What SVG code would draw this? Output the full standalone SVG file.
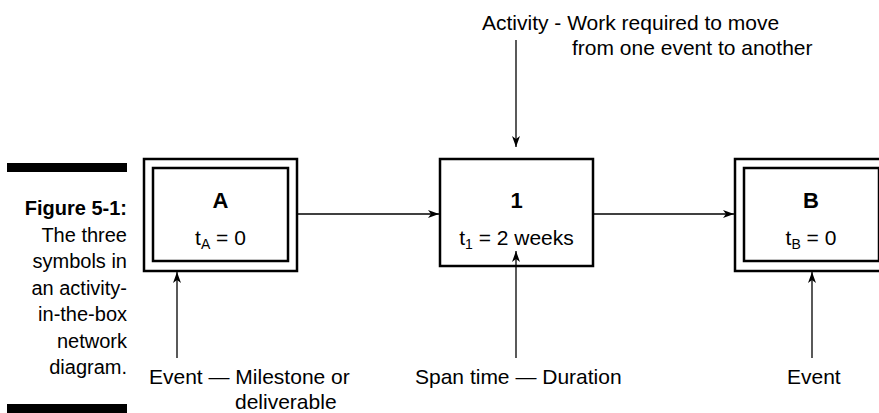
<svg xmlns="http://www.w3.org/2000/svg" width="879" height="413" viewBox="0 0 879 413">
<style>
  .t { font-family: "Liberation Sans", Arial, sans-serif; font-size: 21px; fill: #000; }
  .b { font-family: "Liberation Sans", Arial, sans-serif; font-size: 22px; font-weight: bold; fill: #000; }
  .cap { font-family: "Liberation Sans", Arial, sans-serif; font-size: 20px; fill: #000; text-anchor: end; }
  .box { fill: none; stroke: #000; stroke-width: 2.5; }
  .con { stroke: #000; stroke-width: 1.3; fill: none; marker-end: url(#ah); }
</style>
<defs>
  <marker id="ah" markerUnits="userSpaceOnUse" markerWidth="12" markerHeight="8" refX="11" refY="4" orient="auto">
    <path d="M0,0 L11,4 L0,8 L3,4 Z" fill="#000"/>
  </marker>
</defs>
<rect width="879" height="413" fill="#fff"/>

<g id="caption">
  <rect x="7" y="163" width="120" height="9" fill="#000"/>
  <text class="cap" x="127" y="215" font-weight="bold">Figure 5-1:</text>
  <text class="cap" x="127" y="241.5">The three</text>
  <text class="cap" x="127" y="268">symbols in</text>
  <text class="cap" x="127" y="294.5">an activity-</text>
  <text class="cap" x="127" y="321">in-the-box</text>
  <text class="cap" x="127" y="347.5">network</text>
  <text class="cap" x="127" y="374">diagram.</text>
  <rect x="7" y="404" width="120" height="9" fill="#000"/>
</g>

<g id="nodeA">
  <rect class="box" x="144" y="159" width="153" height="112"/>
  <rect class="box" x="153" y="168" width="135" height="93"/>
  <text class="b" x="220.5" y="208" text-anchor="middle">A</text>
  <text class="t" x="220.5" y="245" text-anchor="middle">t<tspan font-size="14" dy="4">A</tspan><tspan dy="-4"> = 0</tspan></text>
</g>

<g id="node1">
  <rect class="box" x="440" y="159" width="153" height="107"/>
  <text class="b" x="516.5" y="208" text-anchor="middle">1</text>
  <text class="t" x="516.5" y="245" text-anchor="middle">t<tspan font-size="14" dy="4">1</tspan><tspan dy="-4"> = 2 weeks</tspan></text>
</g>

<g id="nodeB">
  <rect class="box" x="735" y="159" width="153" height="112"/>
  <rect class="box" x="744" y="168" width="135" height="93"/>
  <text class="b" x="811" y="208" text-anchor="middle">B</text>
  <text class="t" x="811" y="245" text-anchor="middle">t<tspan font-size="14" dy="4">B</tspan><tspan dy="-4"> = 0</tspan></text>
</g>

<g id="connectors">
  <line class="con" x1="297" y1="214" x2="439" y2="214"/>
  <line class="con" x1="593" y1="214" x2="734" y2="214"/>
  <line class="con" x1="516" y1="40" x2="516" y2="147"/>
  <line class="con" x1="177" y1="358" x2="177" y2="272"/>
  <line class="con" x1="516" y1="358" x2="516" y2="251"/>
  <line class="con" x1="812" y1="358" x2="812" y2="272"/>
</g>

<g id="labels">
  <text class="t" x="482" y="30">Activity - Work required to move</text>
  <text class="t" x="572" y="55">from one event to another</text>
  <text class="t" x="149" y="384">Event — Milestone or</text>
  <text class="t" x="235" y="409">deliverable</text>
  <text class="t" x="415" y="384">Span time — Duration</text>
  <text class="t" x="787" y="384">Event</text>
</g>
</svg>
